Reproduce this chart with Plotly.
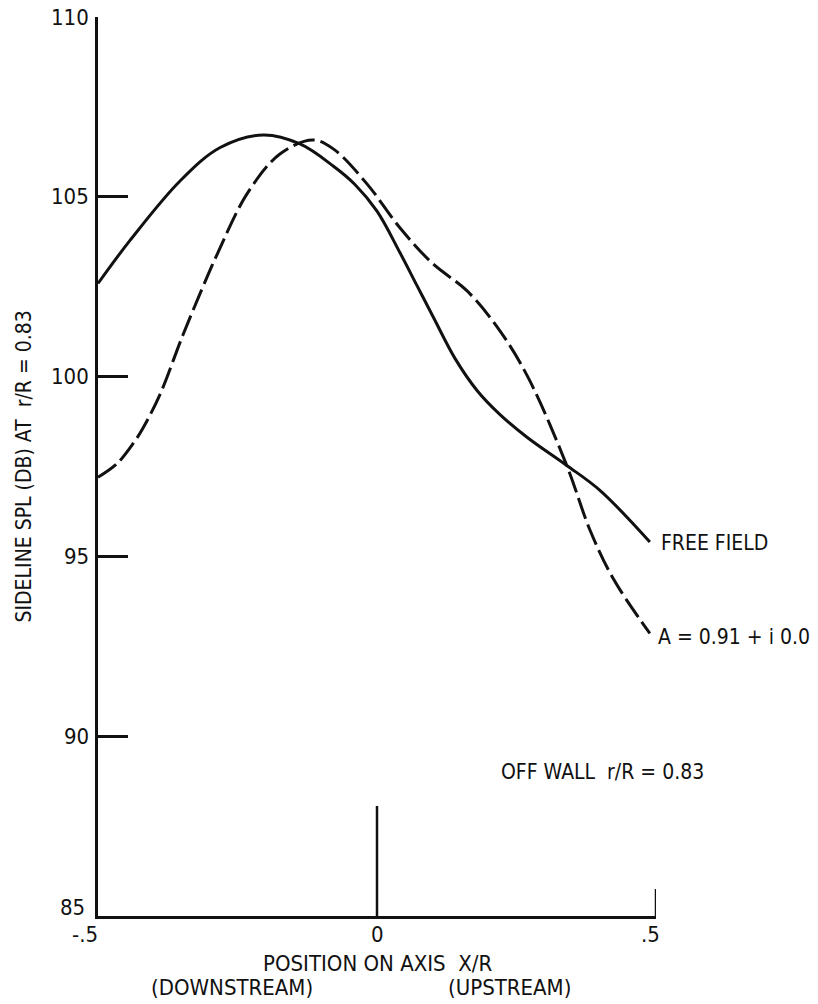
import plotly.graph_objects as go

# ---- data ----
free_x = [-0.5, -0.443, -0.353, -0.281, -0.204, -0.138, -0.078, -0.04, 0.0, 0.041,
          0.071, 0.101, 0.14, 0.18, 0.22, 0.27, 0.34, 0.40, 0.489]
free_y = [102.59, 103.78, 105.44, 106.37, 106.72, 106.47, 105.85, 105.35, 104.6, 103.45,
          102.55, 101.65, 100.5, 99.6, 98.95, 98.3, 97.53, 96.83, 95.40]

wall_x = [-0.5, -0.466, -0.437, -0.419, -0.389, -0.348, -0.305, -0.285, -0.233, -0.174,
          -0.115, -0.079, -0.018, 0.041, 0.10, 0.161, 0.220, 0.271, 0.340, 0.382, 0.423,
          0.489]
wall_y = [97.20, 97.58, 98.14, 98.58, 99.50, 101.15, 102.75, 103.45, 105.08, 106.19,
          106.58, 106.34, 105.36, 104.14, 103.14, 102.39, 101.28, 99.97, 97.53, 95.72,
          94.39, 92.86]

y_ticks = [85, 90, 95, 100, 105, 110]
x_tick_vals = [-0.5, 0, 0.5]
x_tick_text = ["-.5", "0", ".5"]

X0, X1 = -0.5, 0.5
Y0, Y1 = 85, 110


def px(v):
    return (v - X0) / (X1 - X0)


def py(v):
    return (v - Y0) / (Y1 - Y0)


FONT = "Liberation Sans Narrow, DejaVu Sans Condensed, Arial Narrow, Liberation Sans, sans-serif"
INK = "#111111"

fig = go.Figure()
fig.add_trace(go.Scatter(x=free_x, y=free_y, mode="lines",
                         line=dict(color=INK, width=3, shape="spline", smoothing=1.0),
                         cliponaxis=False, showlegend=False))
fig.add_trace(go.Scatter(x=wall_x, y=wall_y, mode="lines",
                         line=dict(color=INK, width=3, shape="spline", smoothing=1.0,
                                   dash="22px,6px"),
                         cliponaxis=False, showlegend=False))

# axis marker lines at x = 0 and x = .5
fig.add_shape(type="line", x0=0, x1=0, y0=85, y1=88.06, xref="x", yref="y",
              line=dict(color=INK, width=2.5))
fig.add_shape(type="line", x0=0.5, x1=0.5, y0=85, y1=85.75, xref="x", yref="y",
              line=dict(color=INK, width=2.5))

ann = []
# y tick labels
for v in y_ticks:
    ann.append(dict(x=0, y=py(v), xref="paper", yref="paper", text=str(v),
                    showarrow=False, xanchor="right", yanchor="middle",
                    xshift=-7 if v != 85 else -11, yshift=9 if v == 85 else 0,
                    font=dict(size=22, family=FONT, color=INK)))
# x tick labels
anchors = ["right", "center", "center"]
shifts = [2, 0, -6]
for v, t, a, s in zip(x_tick_vals, x_tick_text, anchors, shifts):
    ann.append(dict(x=px(v), y=0, xref="paper", yref="paper", text=t, showarrow=False,
                    xanchor=a, yanchor="top", xshift=s, yshift=-4,
                    font=dict(size=22, family=FONT, color=INK)))
ann.append(dict(x=px(0), y=py(83.69), xref="paper", yref="paper",
                text="POSITION ON AXIS\u00a0\u00a0X/R",
                showarrow=False, xanchor="center", yanchor="middle",
                font=dict(size=22, family=FONT, color=INK)))
ann.append(dict(x=px(-0.26), y=py(83.0), xref="paper", yref="paper", text="(DOWNSTREAM)",
                showarrow=False, xanchor="center", yanchor="middle",
                font=dict(size=22, family=FONT, color=INK)))
ann.append(dict(x=px(0.237), y=py(83.0), xref="paper", yref="paper", text="(UPSTREAM)",
                showarrow=False, xanchor="center", yanchor="middle",
                font=dict(size=22, family=FONT, color=INK)))
# curve labels
ann.append(dict(x=px(0.505), y=py(95.36), xref="paper", yref="paper", text="FREE FIELD",
                showarrow=False, xanchor="left", yanchor="middle",
                font=dict(size=21, family=FONT, color=INK)))
ann.append(dict(x=px(0.4995), y=py(92.75), xref="paper", yref="paper",
                text="A = 0.91 + i 0.0",
                showarrow=False, xanchor="left", yanchor="middle",
                font=dict(size=21, family=FONT, color=INK)))
ann.append(dict(x=px(0.219), y=py(89.0), xref="paper", yref="paper",
                text="OFF WALL\u00a0\u00a0r/R = 0.83",
                showarrow=False, xanchor="left", yanchor="middle",
                font=dict(size=21, family=FONT, color=INK)))
# y axis title
ann.append(dict(x=(23 - 98) / 558, y=0.5, xref="paper", yref="paper",
                text="SIDELINE SPL (DB) AT\u00a0\u00a0r/R = 0.83", textangle=-90,
                showarrow=False, xanchor="center", yanchor="middle",
                font=dict(size=21, family=FONT, color=INK)))

fig.update_layout(
    width=818, height=1004,
    margin=dict(l=98, r=162, t=17, b=88),
    paper_bgcolor="white", plot_bgcolor="white",
    showlegend=False,
    annotations=ann,
    xaxis=dict(range=[X0, X1], showline=True, linecolor=INK, linewidth=2.5,
               showgrid=False, zeroline=False, showticklabels=False, ticks=""),
    yaxis=dict(range=[Y0, Y1], showline=True, linecolor=INK, linewidth=2.5,
               showgrid=False, zeroline=False, tickvals=y_ticks, showticklabels=False,
               ticks="inside", ticklen=30, tickwidth=2.5, tickcolor=INK),
)

fig.write_html("out.html")
